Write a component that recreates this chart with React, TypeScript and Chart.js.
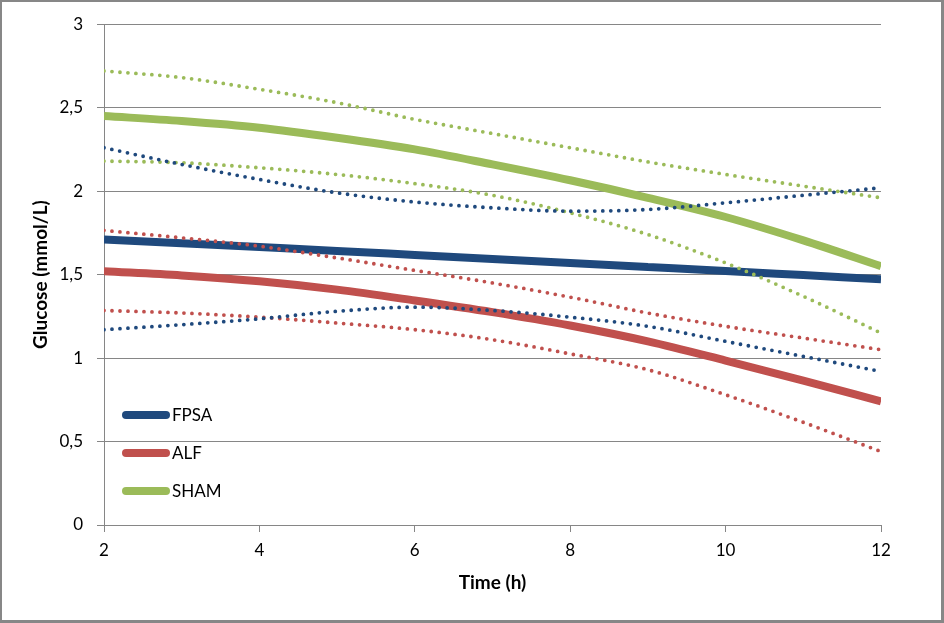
import React, { useEffect, useRef } from "react";
import { Chart, registerables } from "chart.js";

Chart.register(...registerables);

const timeHours = [2, 3, 4, 5, 6, 7, 8, 9, 10, 11, 12];
const xTicks = [2, 4, 6, 8, 10, 12];

const fpsa = [1.71, 1.688, 1.665, 1.642, 1.618, 1.594, 1.57, 1.546, 1.522, 1.497, 1.472];
const fpsaUpper = [2.26, 2.16, 2.07, 1.99, 1.935, 1.9, 1.88, 1.89, 1.93, 1.975, 2.02];
const fpsaLower = [1.17, 1.2, 1.235, 1.28, 1.305, 1.285, 1.245, 1.19, 1.1, 1.01, 0.92];

const alf = [1.52, 1.495, 1.46, 1.41, 1.345, 1.275, 1.195, 1.1, 0.985, 0.865, 0.74];
const alfUpper = [1.765, 1.72, 1.67, 1.6, 1.525, 1.45, 1.365, 1.27, 1.19, 1.12, 1.05];
const alfLower = [1.285, 1.27, 1.245, 1.21, 1.17, 1.11, 1.025, 0.93, 0.78, 0.615, 0.44];

const sham = [2.45, 2.42, 2.38, 2.32, 2.25, 2.16, 2.065, 1.96, 1.845, 1.705, 1.55];
const shamUpper = [2.72, 2.68, 2.61, 2.53, 2.43, 2.345, 2.26, 2.175, 2.1, 2.03, 1.96];
const shamLower = [2.18, 2.17, 2.14, 2.1, 2.045, 1.975, 1.87, 1.74, 1.57, 1.37, 1.15];

const seriesNames = ["FPSA", "ALF", "SHAM"];
const seriesColors = ["#1F497D", "#C0504D", "#9BBB59"];

const FONT = "Lato, 'Open Sans', 'DejaVu Sans', sans-serif";

const toPoints = (ys: number[]) => timeHours.map((x, i) => ({ x, y: ys[i] }));

const legendPlugin = {
  id: "insideLegend",
  afterDatasetsDraw(chart: any) {
    const { ctx, chartArea } = chart;
    const items = chart.data.datasets.filter((d: any) => d.isMain);
    ctx.save();
    items.forEach((d: any, i: number) => {
      const y = chartArea.bottom - 110 + i * 38;
      const x0 = chartArea.left + 22;
      ctx.strokeStyle = d.borderColor;
      ctx.lineWidth = 8;
      ctx.lineCap = "round";
      ctx.beginPath();
      ctx.moveTo(x0, y);
      ctx.lineTo(x0 + 40, y);
      ctx.stroke();
      ctx.fillStyle = "#000";
      ctx.font = `17px ${FONT}`;
      ctx.textBaseline = "middle";
      ctx.textAlign = "left";
      ctx.fillText(d.label, x0 + 46, y + 1);
    });
    ctx.restore();
  },
};

export default function App() {
  const ref = useRef<HTMLCanvasElement | null>(null);

  useEffect(() => {
    if (!ref.current) return;
    const mains = [fpsa, alf, sham];
    const uppers = [fpsaUpper, alfUpper, shamUpper];
    const lowers = [fpsaLower, alfLower, shamLower];
    const datasets: any[] = [];
    seriesNames.forEach((name, i) => {
      [uppers[i], lowers[i]].forEach((band, j) => {
        datasets.push({
          label: `${name} ${j === 0 ? "upper" : "lower"}`,
          data: toPoints(band),
          borderColor: seriesColors[i],
          borderWidth: 3.8,
          borderDash: [0, 8],
          borderCapStyle: "round",
          pointRadius: 0,
          fill: false,
          cubicInterpolationMode: "monotone",
          isMain: false,
        });
      });
    });
    seriesNames.forEach((name, i) => {
      datasets.push({
        label: name,
        data: toPoints(mains[i]),
        borderColor: seriesColors[i],
        borderWidth: 8,
        pointRadius: 0,
        fill: false,
        cubicInterpolationMode: "monotone",
        isMain: true,
      });
    });

    const chart = new Chart(ref.current, {
      type: "line",
      data: { datasets },
      plugins: [legendPlugin],
      options: {
        animation: false,
        responsive: false,
        layout: { padding: { left: 0, top: 24, right: 63, bottom: 0 } },
        plugins: { legend: { display: false }, tooltip: { enabled: false } },
        scales: {
          x: {
            type: "linear",
            min: 2,
            max: 12,
            afterBuildTicks: (s: any) => {
              s.ticks = xTicks.map((v) => ({ value: v }));
            },
            afterFit: (s: any) => {
              s.height = 98;
            },
            ticks: {
              font: { family: FONT, size: 17 },
              color: "#000",
              padding: 8,
              maxRotation: 0,
              autoSkip: false,
            },
            grid: {
              drawOnChartArea: false,
              drawTicks: true,
              tickLength: 7,
              color: "#868686",
            },
            border: { display: true, color: "#868686" },
            title: {
              display: true,
              text: "Time (h)",
              font: { family: FONT, size: 19, weight: "bold" },
              color: "#000",
              padding: { bottom: 29, top: 0 },
            },
          },
          y: {
            min: 0,
            max: 3,
            afterFit: (s: any) => {
              s.width = 104;
            },
            ticks: {
              stepSize: 0.5,
              font: { family: FONT, size: 17 },
              color: "#000",
              padding: 14,
              callback: (v: any) => String(v).replace(".", ","),
            },
            grid: {
              color: "#868686",
              tickLength: 7,
              drawTicks: true,
            },
            border: { display: true, color: "#868686" },
            title: {
              display: true,
              text: "Glucose (mmol/L)",
              font: { family: FONT, size: 19, weight: "bold" },
              color: "#000",
              padding: { top: 29, bottom: 0 },
            },
          },
        },
      },
    });
    return () => chart.destroy();
  }, []);

  return (
    <div style={{ position: "fixed", left: 0, top: 0, width: 944, height: 623, background: "#fff" }}>
      <canvas ref={ref} width={944} height={623} style={{ position: "absolute", left: 0, top: 0 }} />
      <div
        style={{
          position: "absolute",
          left: 0,
          top: 0,
          width: 944,
          height: 623,
          boxSizing: "border-box",
          border: "2px solid #878787",
          borderRight: "3px solid #878787",
          borderBottom: "3px solid #878787",
          pointerEvents: "none",
        }}
      />
    </div>
  );
}
